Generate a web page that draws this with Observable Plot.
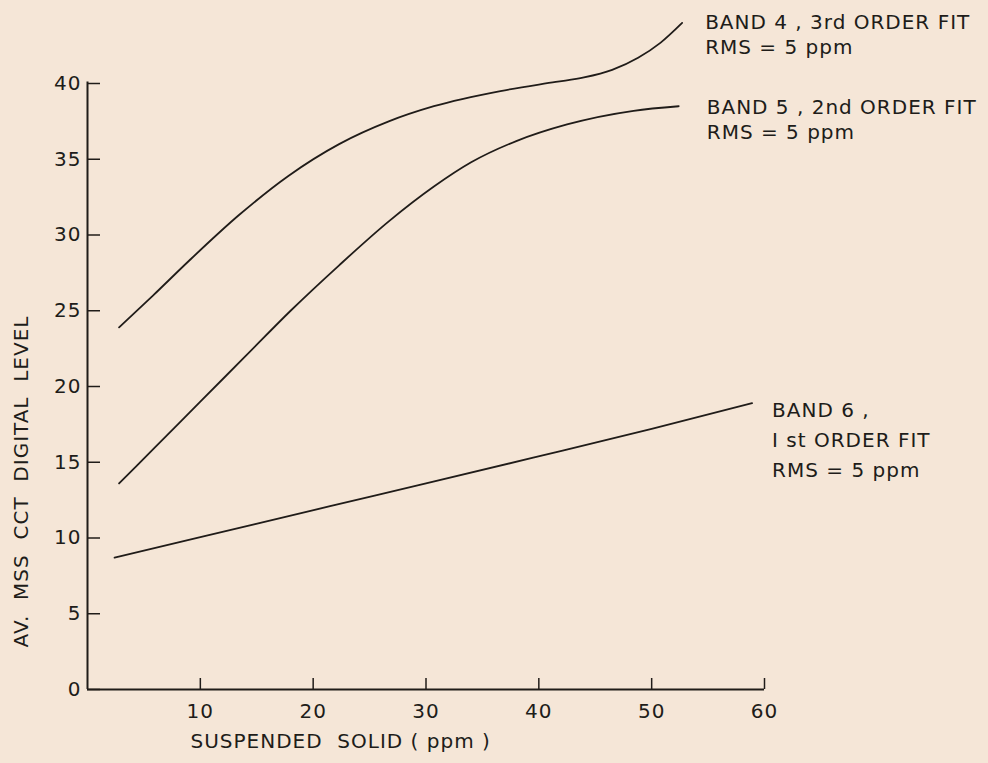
<!DOCTYPE html>
<html><head><meta charset="utf-8">
<script src="https://cdn.jsdelivr.net/npm/d3@7"></script>
<script src="https://cdn.jsdelivr.net/npm/@observablehq/plot@0.6"></script>
<style>
html,body{margin:0;padding:0;background:#f5e6d7;}
#chart svg text{white-space:pre;}
</style></head><body><div id="chart"></div>
<script>
// Suspended solid (ppm) vs average MSS CCT digital level
const band4X = [2.8, 5.8, 9.0, 13.4, 17.8, 22.3, 26.7, 30.7, 36.6, 41.5, 44.0, 46.5, 48.8, 50.8, 52.7];
const band4Y = [23.9, 26.0, 28.3, 31.3, 33.9, 36.0, 37.5, 38.5, 39.5, 40.1, 40.4, 40.9, 41.7, 42.7, 44.0];
const band5X = [2.8, 6.0, 10.0, 14.0, 18.0, 22.3, 26.7, 30.7, 34.0, 38.0, 42.5, 48.4, 52.4];
const band5Y = [13.6, 16.0, 19.0, 22.0, 25.0, 28.0, 30.9, 33.2, 34.8, 36.2, 37.3, 38.2, 38.5];
const band6X = [2.4, 10.0, 21.5, 30.0, 39.5, 50.0, 58.9];
const band6Y = [8.7, 10.05, 12.1, 13.6, 15.3, 17.2, 18.9];
const bandNames = ["BAND 4", "BAND 5", "BAND 6"];
const bandLabels = [
  "BAND 4 , 3rd ORDER FIT\nRMS = 5 ppm",
  "BAND 5 , 2nd ORDER FIT\nRMS = 5 ppm",
  "BAND 6 ,\nI st ORDER FIT\nRMS = 5 ppm"
];
const xTicks = [10, 20, 30, 40, 50, 60];
const yTicks = [0, 5, 10, 15, 20, 25, 30, 35, 40];
const xTitle = "SUSPENDED  SOLID ( ppm )";
const yTitle = "AV.  MSS  CCT  DIGITAL  LEVEL";

const toRows = (xs, ys, name) => xs.map((x, i) => ({x, y: ys[i], band: name}));
const series = [toRows(band4X, band4Y, bandNames[0]), toRows(band5X, band5Y, bandNames[1]), toRows(band6X, band6Y, bandNames[2])];
const rows = series.flat();
const ends = series.map((s, i) => ({...s[s.length - 1], label: bandLabels[i]}));

const ink = "#201c19";
const W = 988, H = 763, ML = 87, MR = 224, MT = 83, MB = 74;
const frameW = W - ML - MR, frameH = H - MT - MB;
const labelStyle = {x: "x", y: "y", text: "label", textAnchor: "start", lineAnchor: "top", fontSize: 20, fill: ink};

const plot = Plot.plot({
  width: W, height: H,
  marginLeft: ML, marginRight: MR, marginTop: MT, marginBottom: MB,
  x: {domain: [0, 60], label: null},
  y: {domain: [0, 40], label: null},
  style: {background: "#f5e6d7", fontFamily: "DejaVu Sans", color: ink, letterSpacing: "1px"},
  marks: [
    Plot.ruleX([0], {y1: 0, y2: 40.1, stroke: ink, strokeWidth: 2}),
    Plot.ruleY([0], {x1: 0, x2: 60, stroke: ink, strokeWidth: 2}),
    Plot.tickX(xTicks, {x: d => d, insetTop: frameH - 11, stroke: ink, strokeWidth: 1.5}),
    Plot.tickY(yTicks, {y: d => d, insetRight: frameW - 13, stroke: ink, strokeWidth: 1.5}),
    Plot.axisX({ticks: xTicks, tickSize: 0, tickPadding: 14, fontSize: 20, label: null}),
    Plot.axisY({ticks: yTicks, tickSize: 0, tickPadding: 6, fontSize: 20, label: null}),
    Plot.line(rows, {x: "x", y: "y", z: "band", curve: "monotone-x", stroke: ink, strokeWidth: 1.8}),
    Plot.text([ends[0]], {...labelStyle, lineHeight: 1.25, dx: 23, dy: -12}),
    Plot.text([ends[1]], {...labelStyle, lineHeight: 1.25, dx: 28, dy: -10}),
    Plot.text([ends[2]], {...labelStyle, lineHeight: 1.5, dx: 20, dy: -7}),
    Plot.text([xTitle], {frameAnchor: "bottom-left", text: d => d, textAnchor: "start", fontSize: 20, fill: ink, dx: 103, dy: 58}),
    Plot.text([yTitle], {frameAnchor: "left", text: d => d, rotate: -90, textAnchor: "middle", fontSize: 20, fill: ink, dx: -66, dy: 95})
  ]
});
document.getElementById("chart").appendChild(plot);
</script>
</body></html>
